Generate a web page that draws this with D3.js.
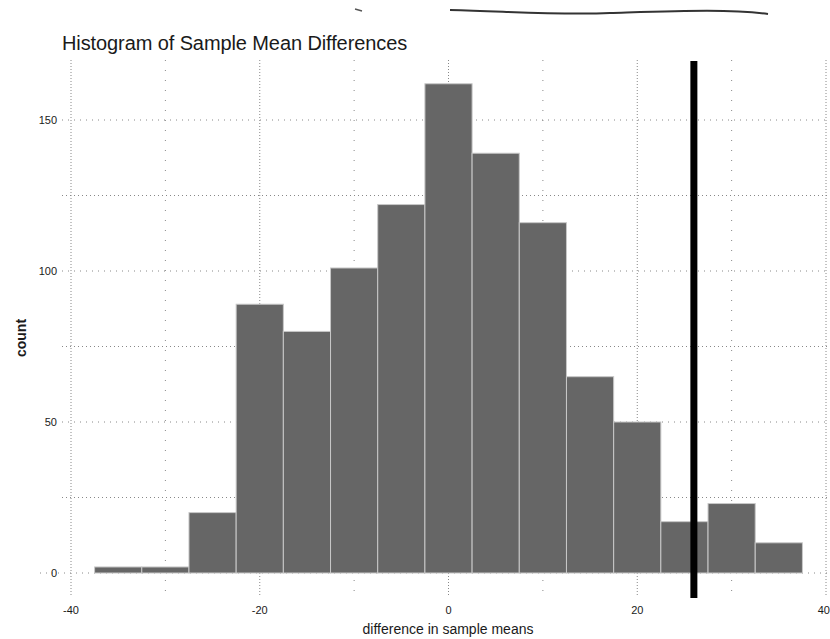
<!DOCTYPE html>
<html>
<head>
<meta charset="utf-8">
<script src="https://d3js.org/d3.v7.min.js"></script>
<style>
body { margin: 0; background: #fff; }
svg text { font-family: "Liberation Sans", Arial, sans-serif; fill: #1a1a1a; }
</style>
</head>
<body>
<svg id="chart" width="830" height="639"></svg>
<script>
// histogram bins (left edge of each bin, width 5) and counts
const binStarts = [-37.5, -32.5, -27.5, -22.5, -17.5, -12.5, -7.5, -2.5, 2.5, 7.5, 12.5, 17.5, 22.5, 27.5, 32.5];
const counts    = [2, 2, 20, 89, 80, 101, 122, 162, 139, 116, 65, 50, 17, 23, 10];
const binWidth = 5;
const observedDiff = 26;
const xTicks = [-40, -20, 0, 20, 40];
const yTicks = [0, 50, 100, 150];
const xGrid = [-40, -30, -20, -10, 0, 10, 20, 30, 40];
const yGrid = [0, 25, 50, 75, 100, 125, 150, 175];

const svg = d3.select('#chart');

const x = d3.scaleLinear().domain([-40, 40]).range([71, 826]);
const y = d3.scaleLinear().domain([0, 150]).range([573, 120]);
const plotTop = 60, gridBottom = 597;

// stray pen mark at the top of the scan
svg.append('path')
  .attr('d', 'M450,10 C520,12 560,15 610,13 C680,11 730,9 768,14')
  .attr('fill', 'none').attr('stroke', '#333').attr('stroke-width', 2);
svg.append('line').attr('x1', 355).attr('x2', 362).attr('y1', 9).attr('y2', 11).attr('stroke', '#555').attr('stroke-width', 1.5);

// title
svg.append('text')
  .attr('x', 62).attr('y', 50)
  .style('font-size', '20px')
  .style('letter-spacing', '-0.1px')
  .text('Histogram of Sample Mean Differences');

// grid
svg.append('g').selectAll('line')
  .data(yGrid.filter(d => y(d) >= plotTop))
  .enter().append('line')
  .attr('x1', d => d === 0 ? 40 : 62).attr('x2', 830)
  .attr('y1', d => y(d)).attr('y2', d => y(d))
  .attr('stroke', '#888').attr('stroke-width', 1)
  .attr('stroke-dasharray', d => d % 50 === 0 ? '1,5' : '1,3');

svg.append('g').selectAll('line')
  .data(xGrid)
  .enter().append('line')
  .attr('x1', d => x(d)).attr('x2', d => x(d))
  .attr('y1', plotTop).attr('y2', gridBottom)
  .attr('stroke', '#888').attr('stroke-width', 1)
  .attr('stroke-dasharray', d => d % 20 === 0 ? '1,2' : '1,9');

// bars
svg.append('g').selectAll('rect')
  .data(counts)
  .enter().append('rect')
  .attr('x', (d, i) => x(binStarts[i]))
  .attr('width', (d, i) => x(binStarts[i] + binWidth) - x(binStarts[i]))
  .attr('y', d => y(d))
  .attr('height', d => y(0) - y(d))
  .attr('fill', '#666')
  .attr('stroke', '#c8c8c8')
  .attr('stroke-width', 1);

// observed difference
svg.append('line')
  .attr('x1', x(observedDiff)).attr('x2', x(observedDiff))
  .attr('y1', 61).attr('y2', 598)
  .attr('stroke', '#000').attr('stroke-width', 7);

// tick labels
svg.append('g').selectAll('text')
  .data(xTicks)
  .enter().append('text')
  .attr('x', d => d === 40 ? 830 : x(d)).attr('y', 614)
  .attr('text-anchor', d => d === 40 ? 'end' : 'middle')
  .style('font-size', '11px')
  .text(d => d);

svg.append('g').selectAll('text')
  .data(yTicks)
  .enter().append('text')
  .attr('x', 57).attr('y', d => y(d) + 4)
  .attr('text-anchor', 'end')
  .style('font-size', '11px')
  .text(d => d);

// axis titles
svg.append('text')
  .attr('x', 448).attr('y', 634)
  .attr('text-anchor', 'middle')
  .style('font-size', '14px')
  .text('difference in sample means');

svg.append('text')
  .attr('transform', 'translate(26,338) rotate(-90)')
  .attr('text-anchor', 'middle')
  .style('font-size', '14px')
  .style('font-weight', 'bold')
  .text('count');
</script>
</body>
</html>
